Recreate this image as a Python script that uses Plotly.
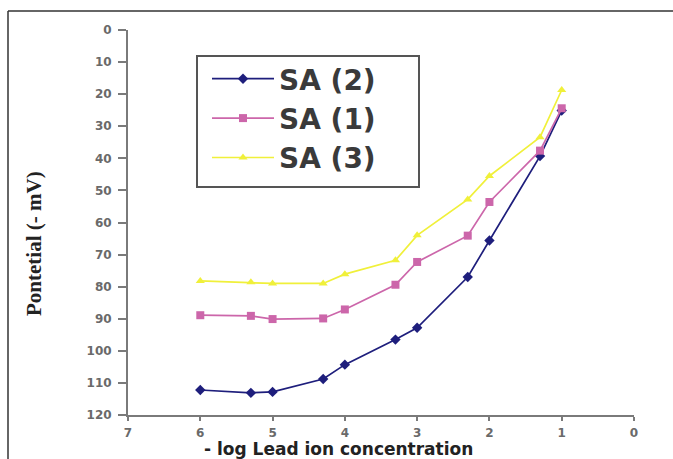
import plotly.graph_objects as go

x_vals = [6, 5.3, 5, 4.3, 4, 3.3, 3, 2.3, 2, 1.3, 1]
sa2 = [112.2, 113.1, 112.8, 108.8, 104.3, 96.5, 92.8, 77.0, 65.6, 39.3, 25.1]
sa1 = [88.9, 89.1, 90.1, 89.9, 87.1, 79.4, 72.3, 64.1, 53.6, 37.6, 24.4]
sa3 = [78.2, 78.6, 79.0, 79.0, 76.1, 71.8, 64.0, 52.8, 45.5, 33.4, 18.7]
series_names = ["SA (2)", "SA (1)", "SA (3)"]
x_ticks = [0, 1, 2, 3, 4, 5, 6, 7]
y_ticks = [0, 10, 20, 30, 40, 50, 60, 70, 80, 90, 100, 110, 120]

colors = ["#1e1e7c", "#cc66aa", "#f0f03a"]
symbols = ["diamond", "square", "triangle-up"]

fig = go.Figure()
for name, ys, c, s in zip(series_names, [sa2, sa1, sa3], colors, symbols):
    fig.add_trace(go.Scatter(
        x=x_vals, y=ys, name=name, mode="lines+markers",
        line=dict(color=c, width=1.7),
        marker=dict(color=c, symbol=s, size=8, line=dict(width=0)),
    ))

W, H = 673, 459
L, R, T, B = 128, 39, 30, 44
pw, ph = W - L - R, H - T - B

def px(x):
    return (x - L) / pw

def py(y):
    return (H - B - y) / ph

tick_font = dict(family="DejaVu Sans", size=12, color="#6a6a6a", weight="bold")

fig.update_layout(
    width=W, height=H,
    margin=dict(l=L, r=R, t=T, b=B),
    plot_bgcolor="white", paper_bgcolor="white",
    showlegend=True,
    legend=dict(
        x=px(207), y=py(54), xanchor="left", yanchor="top",
        borderwidth=0, bgcolor="rgba(0,0,0,0)",
        font=dict(family="DejaVu Sans", size=28, color="#3a3a3a", weight="bold"),
        itemwidth=62,
    ),
    xaxis=dict(
        range=[7, 0], tickvals=x_ticks, ticktext=[str(v) for v in x_ticks],
        showgrid=False, zeroline=False, showline=True, linecolor="#7a7a7a", linewidth=2,
        ticks="outside", ticklen=4, tickwidth=2, tickcolor="#7a7a7a",
        tickfont=tick_font, ticklabelstandoff=2,
    ),
    yaxis=dict(
        range=[120, 0], tickvals=y_ticks, ticktext=[str(v) for v in y_ticks],
        showgrid=False, zeroline=False, showline=True, linecolor="#7a7a7a", linewidth=2,
        ticks="outside", ticklen=8, tickwidth=1.5, tickcolor="#7a7a7a",
        tickfont=tick_font, ticklabelstandoff=4,
    ),
    annotations=[
        dict(text="- log Lead ion concentration", xref="paper", yref="paper",
             x=px(338), y=py(449), xanchor="center", yanchor="middle", showarrow=False,
             font=dict(family="DejaVu Sans", size=17, color="#222222", weight="bold")),
        dict(text="Pontetial (- mV)", xref="paper", yref="paper", textangle=-90,
             x=px(34), y=py(244), xanchor="center", yanchor="middle", showarrow=False,
             font=dict(family="Liberation Serif", size=21, color="#222222", weight="bold")),
    ],
    shapes=[
        dict(type="rect", xref="paper", yref="paper",
             x0=px(197), x1=px(419), y0=py(187), y1=py(56),
             line=dict(color="#555555", width=2), fillcolor="rgba(0,0,0,0)"),
        dict(type="line", xref="paper", yref="paper",
             x0=px(8), x1=px(W), y0=py(11), y1=py(11),
             line=dict(color="#333333", width=1.5)),
        dict(type="line", xref="paper", yref="paper",
             x0=px(8), x1=px(8), y0=py(11), y1=py(H),
             line=dict(color="#333333", width=1.5)),
    ],
)

fig.write_html("out.html", config={"displayModeBar": False},
               post_script="document.body.style.margin='0px';document.body.style.overflow='hidden';")
